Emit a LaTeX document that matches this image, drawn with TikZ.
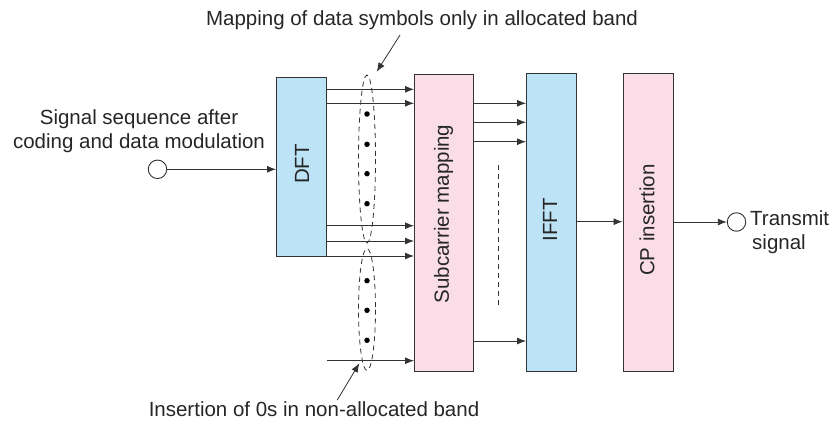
\documentclass[tikz,border=0pt]{standalone}
\usepackage{fontspec}
\setmainfont{Liberation Sans}
\usetikzlibrary{arrows.meta,calc}
\definecolor{bblue}{HTML}{BDE3F7}
\definecolor{bpink}{HTML}{FADDE6}
\definecolor{lcol}{HTML}{333333}
\tikzset{
  blk/.style={draw=lcol, line width=0.9pt, inner sep=0pt, anchor=north west},
  arr/.style={draw=lcol, line width=0.9pt, -{Latex[length=9pt,width=7pt]}},
  lbl/.style={font=\fontsize{20.5}{24}\selectfont, text=black!85, inner sep=0pt},
  rlbl/.style={lbl, rotate=90},
  term/.style={circle, draw=lcol, line width=0.9pt, minimum size=18.5pt, inner sep=0pt, fill=white},
  dotc/.style={circle, fill=black, minimum size=5.5pt, inner sep=0pt},
}
\begin{document}
\begin{tikzpicture}[x=1pt,y=-1pt]
\useasboundingbox (0,0) rectangle (834,420);
% blocks
\node[blk, fill=bblue, minimum width=50pt, minimum height=179pt] (dft) at (276,77) {};
\node[blk, fill=bpink, minimum width=59pt, minimum height=297pt] (sm) at (414,74) {};
\node[blk, fill=bblue, minimum width=50pt, minimum height=298pt] (ifft) at (526,73) {};
\node[blk, fill=bpink, minimum width=50pt, minimum height=298pt] (cp) at (622.5,73) {};
\node[rlbl] (tdft) at (302,164) {DFT};
\node[rlbl] (tsm) at (443.5,214) {Subcarrier mapping};
\node[rlbl] (tifft) at (550,220) {IFFT};
\node[rlbl] (tcp) at (647,220) {CP insertion};
% input
\node[term] (in) at (157.5,169.3) {};
\node[lbl, align=center] (inlbl) at (139,131) {Signal sequence after\\coding and data modulation};
\draw[arr] (in.east) -- (dft.west |- in.east);
% DFT -> SM arrows
\foreach \yy in {89.3,103.3,225.7,241,256}{
  \draw[arr] (dft.east |- {(0,\yy)}) -- (sm.west |- {(0,\yy)});
}
\coordinate (zs) at (327,360.7);
\draw[arr] (zs) -- (sm.west |- zs);
% ellipses
\draw[lcol, line width=0.8pt, dash pattern=on 5pt off 4pt] (367,159) ellipse (8.5 and 84);
\draw[lcol, line width=0.8pt, dash pattern=on 5pt off 4pt] (367,309.5) ellipse (8.5 and 61);
\foreach \yy [count=\i] in {114,144.3,173.7,203.7,280.7,310.3,340.3}{
  \node[dotc] (d\i) at (367,\yy) {};
}
% SM -> IFFT arrows
\foreach \yy in {103.3,122.3,141.7,341}{
  \draw[arr] (sm.east |- {(0,\yy)}) -- (ifft.west |- {(0,\yy)});
}
\draw[lcol, line width=0.8pt, dash pattern=on 5pt off 4pt] (498.5,165) -- (498.5,308.5);
% IFFT -> CP
\coordinate (m) at (0,221.7);
\draw[arr] (ifft.east |- m) -- (cp.west |- m);
% output
\node[term] (out) at (736.5,222) {};
\draw[arr] (cp.east |- out) -- (out.west);
\node[lbl, align=left, anchor=west] (outlbl) at (750,232) {Transmit\\\hspace{2pt}signal};
% annotations
\node[lbl] (toplbl) at (422,20) {Mapping of data symbols only in allocated band};
\coordinate (ta) at (400,35);
\coordinate (tb) at (376.7,71.7);
\draw[arr, line width=0.8pt] (ta) -- (tb);
\node[lbl] (botlbl) at (314,409) {Insertion of 0s in non-allocated band};
\coordinate (ba) at (337.3,400);
\coordinate (bb) at (359.3,363.3);
\draw[arr, line width=0.8pt] (ba) -- (bb);
\end{tikzpicture}
\end{document}
